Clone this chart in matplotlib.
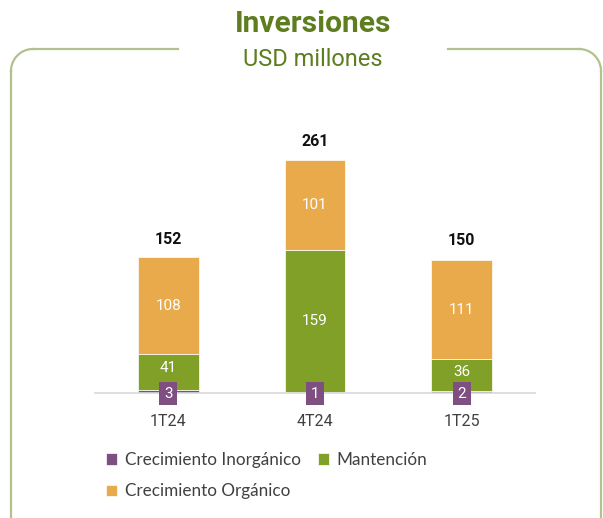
import matplotlib
matplotlib.use("Agg")
import matplotlib.pyplot as plt
from matplotlib.lines import Line2D
import numpy as np

categories = ["1T24", "4T24", "1T25"]
inorganico = [3, 1, 2]
mantencion = [41, 159, 36]
organico = [108, 101, 111]
totales = [152, 261, 150]

c_inorg = "#7F4F82"
c_mant = "#80A027"
c_org = "#E8AA4A"
c_title = "#5E7D1E"

W, H = 603, 518
fig = plt.figure(figsize=(W / 100, H / 100), dpi=100)

# Border with gap for title
bc = "#B3C18E"
lw = 1.6
def fx(x): return x / W
def fy(y): return 1 - y / H
r = 22
top = 49
left = 11
right = 601
fig.add_artist(Line2D([fx(left + r), fx(178)], [fy(top), fy(top)], color=bc, lw=lw))
fig.add_artist(Line2D([fx(448), fx(right - r)], [fy(top), fy(top)], color=bc, lw=lw))
fig.add_artist(Line2D([fx(left), fx(left)], [fy(top + r), fy(H + 5)], color=bc, lw=lw))
fig.add_artist(Line2D([fx(right), fx(right)], [fy(top + r), fy(H + 5)], color=bc, lw=lw))
t = np.linspace(0, np.pi / 2, 30)
fig.add_artist(Line2D(fx(left + r - r * np.cos(t)), fy(top + r - r * np.sin(t)), color=bc, lw=lw))
fig.add_artist(Line2D(fx(right - r + r * np.cos(t)), fy(top + r - r * np.sin(t)), color=bc, lw=lw))

fig.text(fx(313), fy(24), "Inversiones", ha="center", va="center", fontsize=21.5,
         fontweight="bold", color=c_title, family="Roboto")
fig.text(fx(313), fy(59), "USD millones", ha="center", va="center", fontsize=17,
         color=c_title, family="Roboto")

ax_left, ax_right, ax_bottom, ax_top = 95, 535, 393, 100
ax = fig.add_axes([fx(ax_left), fy(ax_bottom), (ax_right - ax_left) / W, (ax_bottom - ax_top) / H])
px_per_unit = 233 / 261
ax.set_ylim(0, (ax_bottom - ax_top) / px_per_unit)
ax.set_xlim(-0.5, 2.5)

x = np.arange(len(categories))
bw = 0.415
inorg = np.array(inorganico)
mant = np.array(mantencion)
org = np.array(organico)
ax.bar(x, inorg, bw, color=c_inorg, edgecolor="white", linewidth=0.5, label="Crecimiento Inorgánico", zorder=2)
ax.bar(x, mant, bw, bottom=inorg, color=c_mant, edgecolor="white", linewidth=0.5, label="Mantención", zorder=2)
ax.bar(x, org, bw, bottom=inorg + mant, color=c_org, edgecolor="white", linewidth=0.5, label="Crecimiento Orgánico", zorder=2)

for i in range(len(categories)):
    ax.text(x[i], inorg[i] + mant[i] + org[i] / 2, str(org[i]), ha="center", va="center",
            color="white", fontsize=11, family="Roboto", zorder=4)
    if mant[i] > 45:
        ax.text(x[i], inorg[i] + mant[i] / 2, str(mant[i]), ha="center", va="center",
                color="white", fontsize=11, family="Roboto", zorder=4)
    else:
        ax.text(x[i], inorg[i] + mant[i] * 0.55 + 2, str(mant[i]), ha="center", va="center",
                color="white", fontsize=11, family="Roboto", zorder=4)
    ax.text(x[i], -1, str(inorg[i]), ha="center", va="center", color="white", fontsize=11,
            family="Roboto", zorder=5,
            bbox=dict(boxstyle="square,pad=0.3", fc=c_inorg, ec="none"))
    ax.text(x[i], totales[i] + 12, str(totales[i]), ha="center", va="bottom", color="#111111",
            fontsize=11.5, fontweight="bold", family="Roboto")

ax.set_xticks(x)
ax.set_xticklabels(categories, fontsize=11.5, color="#404040", family="Roboto")
ax.tick_params(axis="x", length=0, pad=15)
ax.set_yticks([])
for s in ["top", "right", "left"]:
    ax.spines[s].set_visible(False)
ax.spines["bottom"].set_color("#D9D9D9")
ax.spines["bottom"].set_linewidth(1.2)
ax.spines["bottom"].set_zorder(3)

h, l = ax.get_legend_handles_labels()
order = [0, 2, 1]
leg = fig.legend([h[k] for k in order], [l[k] for k in order], ncol=2,
                 loc="upper left", bbox_to_anchor=(fx(99), fy(445)), frameon=False,
                 prop={"family": "Lato", "size": 12.3}, handlelength=0.65, handleheight=0.65,
                 handletextpad=0.45, columnspacing=1.0, labelspacing=0.9, borderaxespad=0)
for txt in leg.get_texts():
    txt.set_color("#404040")

fig.savefig("out.png", dpi=100)
